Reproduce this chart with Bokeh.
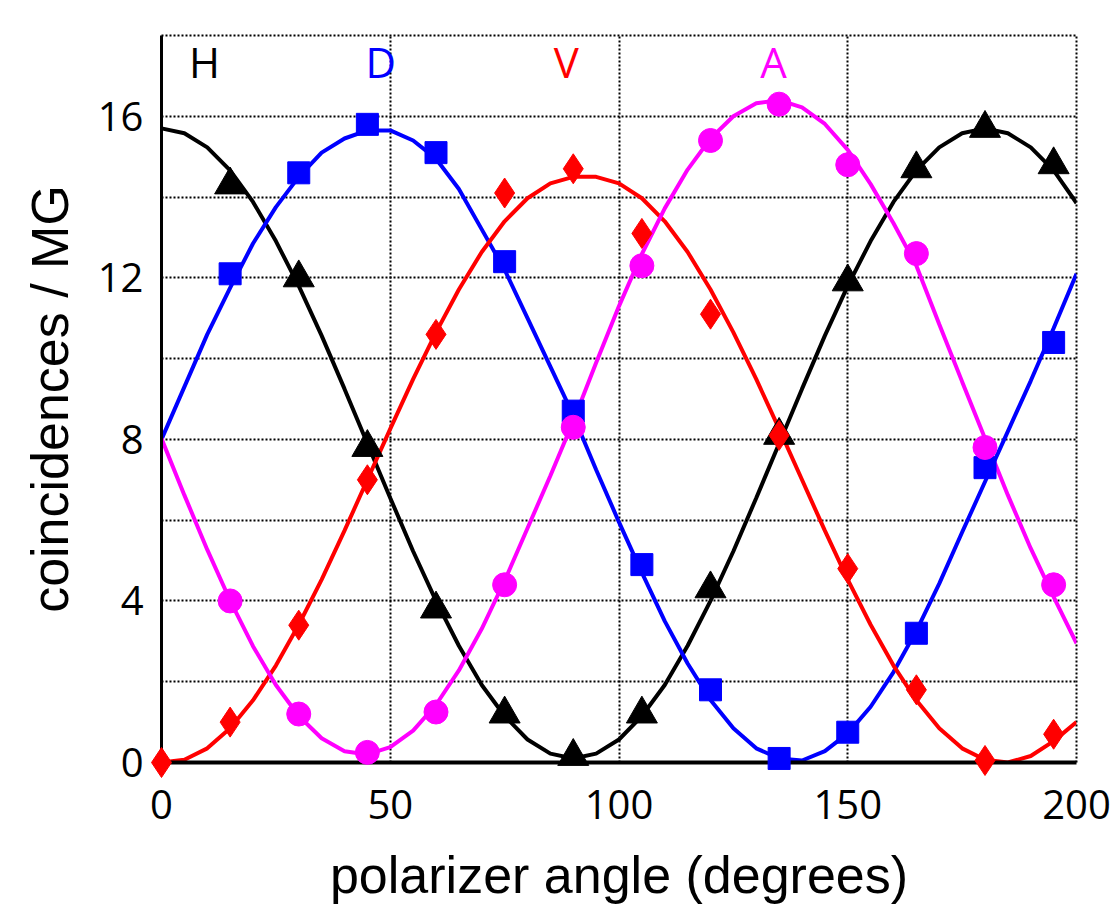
from bokeh.plotting import figure
from bokeh.models import Range1d, FixedTicker
from bokeh.core.properties import value
from bokeh.embed import file_html
from bokeh.resources import INLINE

# ---- data ----
fit_angle = [0, 5, 10, 15, 20, 25, 30, 35, 40, 45, 50, 55, 60, 65, 70, 75, 80, 85, 90, 95,
             100, 105, 110, 115, 120, 125, 130, 135, 140, 145, 150, 155, 160, 165, 170, 175,
             180, 185, 190, 195, 200]
fit_H = [15.7, 15.58, 15.23, 14.66, 13.88, 12.91, 11.8, 10.57, 9.25, 7.9, 6.55, 5.23, 4.0,
         2.89, 1.92, 1.15, 0.57, 0.22, 0.1, 0.22, 0.57, 1.15, 1.92, 2.89, 4.0, 5.23, 6.55,
         7.9, 9.25, 10.57, 11.8, 12.91, 13.88, 14.66, 15.23, 15.58, 15.7, 15.58, 15.23,
         14.66, 13.85]
fit_D = [8.0, 9.3, 10.6, 11.75, 12.85, 13.75, 14.5, 15.1, 15.45, 15.65, 15.65, 15.4, 14.95,
         14.2, 13.2, 12.2, 11.0, 9.8, 8.6, 7.25, 5.95, 4.7, 3.5, 2.45, 1.55, 0.85, 0.35, 0.1,
         0.05, 0.28, 0.72, 1.38, 2.24, 3.26, 4.43, 5.7, 6.95, 8.2, 9.45, 10.75, 12.1]
fit_V = [0.0, 0.07, 0.35, 0.85, 1.54, 2.4, 3.41, 4.53, 5.74, 7.0, 8.26, 9.49, 10.65, 11.71,
         12.64, 13.4, 13.97, 14.34, 14.5, 14.5, 14.34, 13.97, 13.4, 12.64, 11.71, 10.65, 9.49,
         8.26, 7.0, 5.74, 4.53, 3.41, 2.4, 1.54, 0.85, 0.35, 0.07, 0.0, 0.16, 0.53, 1.0]
fit_A = [8.02, 6.62, 5.27, 4.01, 2.88, 1.92, 1.15, 0.6, 0.28, 0.2, 0.38, 0.79, 1.43, 2.28,
         3.31, 4.5, 5.8, 7.1, 8.45, 9.9, 11.3, 12.59, 13.72, 14.68, 15.45, 16.0, 16.32, 16.4,
         16.22, 15.81, 15.17, 14.32, 13.35, 12.3, 10.85, 9.43, 8.02, 6.62, 5.3, 4.1, 2.95]

pt_angle = [15, 30, 45, 60, 75, 90, 105, 120, 135, 150, 165, 180, 195]
pt_H = [14.3, 12.0, 7.8, 3.8, 1.2, 0.15, 1.2, 4.3, 8.1, 11.9, 14.7, 15.7, 14.8]
pt_D = [12.1, 14.6, 15.8, 15.1, 12.4, 8.7, 4.9, 1.8, 0.1, 0.75, 3.2, 7.3, 10.4]
pt_A = [4.0, 1.2, 0.25, 1.25, 4.4, 8.3, 12.3, 15.4, 16.3, 14.8, 12.6, 7.8, 4.4]
pt_angle_V = [0, 15, 30, 45, 60, 75, 90, 105, 120, 135, 150, 165, 180, 195]
pt_V = [0.0, 1.0, 3.4, 7.0, 10.6, 14.1, 14.7, 13.1, 11.1, 8.1, 4.8, 1.8, 0.05, 0.7]

series_names = ["H", "D", "V", "A"]
x_ticks = [0, 50, 100, 150, 200]
y_ticks = [0, 4, 8, 12, 16]
y_grid = [2, 4, 6, 8, 10, 12, 14, 16]
x_grid = [50, 100, 150]

BLACK, BLUE, RED, MAGENTA = "#000000", "#0000FF", "#FF0000", "#FF00FF"

p = figure(width=1117, height=907, output_backend="svg", toolbar_location=None,
           x_range=Range1d(0, 200), y_range=Range1d(0, 18),
           min_border_left=161, min_border_right=41,
           min_border_top=35, min_border_bottom=145)
p.background_fill_color = "white"
p.border_fill_color = "white"

# frame: dotted top/right like the grid
p.outline_line_color = BLACK
p.outline_line_width = 2
p.outline_line_dash = "2 2"

p.xgrid.ticker = FixedTicker(ticks=x_grid)
p.ygrid.ticker = FixedTicker(ticks=y_grid)
for g in (p.xgrid, p.ygrid):
    g.grid_line_color = BLACK
    g.grid_line_width = 2
    g.grid_line_dash = "2 2"
    g.grid_line_alpha = 1.0

p.xaxis.ticker = FixedTicker(ticks=x_ticks)
p.yaxis.ticker = FixedTicker(ticks=y_ticks)
for ax in (p.xaxis, p.yaxis):
    ax.major_tick_line_color = None
    ax.minor_tick_line_color = None
    ax.axis_line_color = BLACK
    ax.major_label_text_font = "Open Sans"
    ax.major_label_text_font_size = "40px"
    ax.major_label_text_color = BLACK
    ax.axis_label_text_font = "Liberation Sans"
    ax.axis_label_text_font_size = "52px"
    ax.axis_label_text_font_style = "normal"
    ax.axis_label_text_color = BLACK
p.xaxis.axis_line_width = 4
p.yaxis.axis_line_width = 3
p.xaxis.major_label_standoff = 21
p.yaxis.major_label_standoff = 12
p.xaxis.axis_label_standoff = 24
p.yaxis.axis_label_standoff = 16
p.xaxis.axis_label = "polarizer angle (degrees)"
p.yaxis.axis_label = "coincidences / MG"

# fitted curves
for ys, c in ((fit_H, BLACK), (fit_D, BLUE), (fit_V, RED), (fit_A, MAGENTA)):
    p.line(fit_angle, ys, line_color=c, line_width=4)

# data points
p.scatter(pt_angle, pt_H, marker="triangle", size=31, color=BLACK, level="overlay")
p.scatter(pt_angle, pt_D, marker="square", size=22, color=BLUE, level="overlay")
p.scatter(pt_angle_V, pt_V, marker="diamond", size=30, color=RED, level="overlay")
p.scatter(pt_angle, pt_A, marker="circle", size=24, color=MAGENTA, level="overlay")

# series labels
label_x = [9.4, 47.9, 88.5, 133.8]
label_y = [17.35, 17.35, 17.35, 17.35]
p.text(x=label_x, y=label_y, text=series_names,
       text_color=[BLACK, BLUE, RED, MAGENTA],
       text_font=value("Open Sans"), text_font_size="42px",
       text_align="center", text_baseline="middle")

open("out.html", "w").write(file_html(p, INLINE))
